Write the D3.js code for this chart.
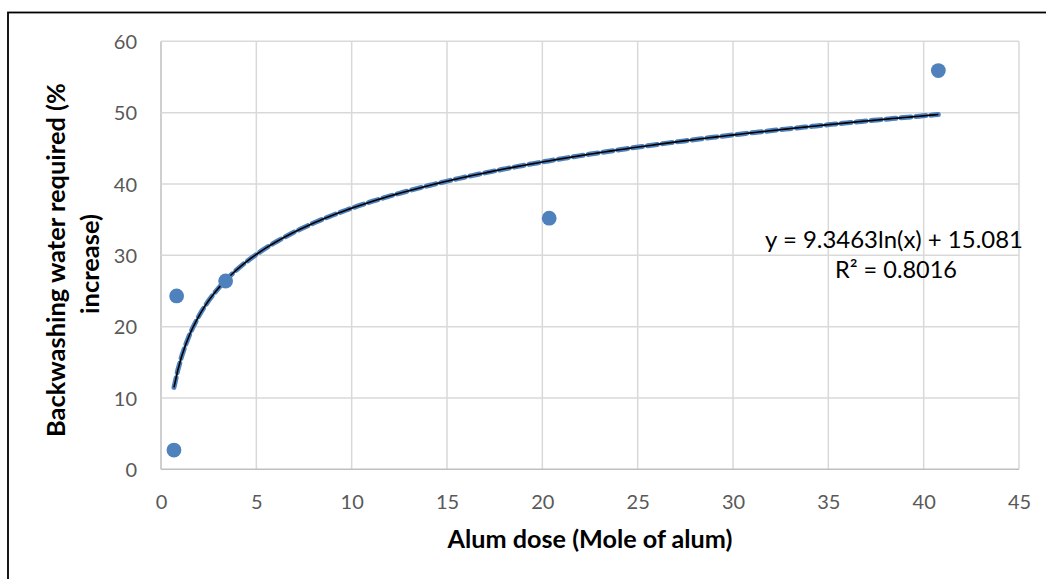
<!DOCTYPE html>
<html><head><meta charset="utf-8">
<script src="https://cdn.jsdelivr.net/npm/d3@7"></script>
<style>html,body{margin:0;padding:0;background:#fff;}svg{display:block;}</style>
</head><body>
<svg id="chart" width="1046" height="579"></svg>
<script>
// Data
const doseX = [0.68, 0.82, 3.39, 20.36, 40.77];
const backwashY = [2.7, 24.3, 26.4, 35.2, 55.9];
const xTicks = [0, 5, 10, 15, 20, 25, 30, 35, 40, 45];
const yTicks = [0, 10, 20, 30, 40, 50, 60];
// Trendline coefficients as printed: y = a ln(x) + b
const trendA = [9.3463];
const trendB = [15.081];
const eqLabel = ["y = 9.3463ln(x) + 15.081", "R² = 0.8016"];
const xTitle = "Alum dose (Mole of alum)";
const yTitle = ["Backwashing water required (%", "increase)"];

const svg = d3.select("#chart");
const FONT = "Lato, 'Open Sans', sans-serif";
const pLeft = 161, pRight = 1019, pTop = 41.3, pBottom = 469.3;
const x = d3.scaleLinear().domain([0, 45]).range([pLeft, pRight]);
const y = d3.scaleLinear().domain([0, 60]).range([pBottom, pTop]);

// outer chart border
svg.append("rect").attr("x", 8).attr("y", 12.5).attr("width", 1060).attr("height", 600)
  .attr("fill", "none").attr("stroke", "#000").attr("stroke-width", 1.8);

// gridlines
const grid = svg.append("g");
grid.selectAll(".vg").data(xTicks).join("line")
  .attr("x1", d => x(d)).attr("x2", d => x(d)).attr("y1", pTop).attr("y2", pBottom)
  .attr("stroke", d => d === 0 ? "#bfbfbf" : "#d9d9d9").attr("stroke-width", 1.5);
grid.selectAll(".hg").data(yTicks).join("line")
  .attr("x1", pLeft).attr("x2", pRight).attr("y1", d => y(d)).attr("y2", d => y(d))
  .attr("stroke", d => d === 0 ? "#bfbfbf" : "#d9d9d9").attr("stroke-width", 1.5);

// axes (labels only)
const xAxis = svg.append("g").attr("transform", `translate(0,${pBottom})`)
  .call(d3.axisBottom(x).tickValues(xTicks).tickSize(0).tickPadding(0));
xAxis.select(".domain").remove();
xAxis.selectAll("text").attr("dy", null).attr("y", 39.5)
  .attr("font-family", FONT).attr("font-size", 20).attr("fill", "#595959");

const yAxis = svg.append("g").attr("transform", `translate(${pLeft},0)`)
  .call(d3.axisLeft(y).tickValues(yTicks).tickSize(0).tickPadding(24));
yAxis.select(".domain").remove();
yAxis.selectAll("text").attr("dy", "0.36em")
  .attr("font-family", FONT).attr("font-size", 20).attr("fill", "#595959");

// trendline
const pts = [];
const xa = d3.min(doseX), xb = d3.max(doseX);
const n = 200;
for (let i = 0; i <= n; i++) {
  const xv = xa + (xb - xa) * i / n;
  pts.push([xv, trendA[0] * Math.log(xv) + trendB[0]]);
}
const line = d3.line().x(d => x(d[0])).y(d => y(d[1]));
svg.append("path").datum(pts).attr("d", line).attr("fill", "none")
  .attr("stroke", "#4f81bd").attr("stroke-width", 5).attr("stroke-dasharray", "10,5")
  .attr("stroke-linecap", "round");
svg.append("path").datum(pts).attr("d", line).attr("fill", "none")
  .attr("stroke", "#000").attr("stroke-width", 1.6);

// markers
svg.append("g").selectAll("circle").data(doseX.map((d, i) => [d, backwashY[i]])).join("circle")
  .attr("cx", d => x(d[0])).attr("cy", d => y(d[1])).attr("r", 7.4).attr("fill", "#4f81bd");

// fit text to target width
function fit(sel, target) {
  const w = sel.node().getComputedTextLength();
  const fs = parseFloat(sel.attr("font-size"));
  sel.attr("font-size", fs * target / w);
}

// equation
const eq1 = svg.append("text").attr("x", 894).attr("y", 248).attr("text-anchor", "middle")
  .attr("font-family", FONT).attr("font-size", 20).attr("fill", "#000").text(eqLabel[0]);
fit(eq1, 258);
const eq2 = svg.append("text").attr("x", 896).attr("y", 278).attr("text-anchor", "middle")
  .attr("font-family", FONT).attr("font-size", 20).attr("fill", "#000").text(eqLabel[1]);
fit(eq2, 122);

// axis titles
const xt = svg.append("text").attr("x", 590).attr("y", 548).attr("text-anchor", "middle")
  .attr("font-family", FONT).attr("font-weight", "bold").attr("font-size", 21)
  .attr("fill", "#000").text(xTitle);
fit(xt, 285);

const yt1 = svg.append("text").attr("transform", "translate(65,260) rotate(-90)")
  .attr("text-anchor", "middle").attr("font-family", FONT).attr("font-weight", "bold")
  .attr("font-size", 21).attr("fill", "#000").text(yTitle[0]);
fit(yt1, 354);
const yt2 = svg.append("text").attr("transform", "translate(99,264) rotate(-90)")
  .attr("text-anchor", "middle").attr("font-family", FONT).attr("font-weight", "bold")
  .attr("font-size", parseFloat(yt1.attr("font-size"))).attr("fill", "#000").text(yTitle[1]);
</script>
</body></html>
